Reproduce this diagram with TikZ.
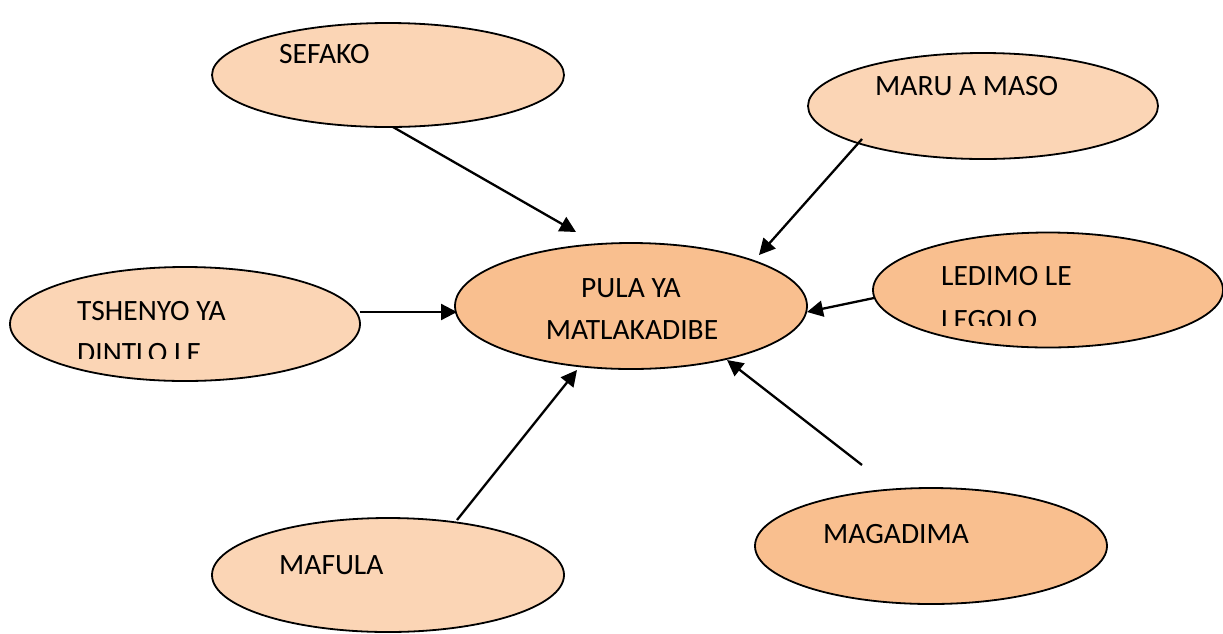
\documentclass[tikz,border=0pt]{standalone}
\usepackage{fontspec}
\setmainfont{Carlito}
\usetikzlibrary{shapes.geometric,arrows.meta}
\definecolor{lightpeach}{HTML}{FBD5B5}
\definecolor{darkpeach}{HTML}{F9BF8F}
\begin{document}
\begin{tikzpicture}[x=1pt,y=-1pt,
  bubble/.style={ellipse,draw=black,line width=1.8pt,inner sep=0pt},
  lbl/.style={anchor=base west,inner sep=0pt,font=\fontsize{29.5}{41}\selectfont},
  arr/.style={line width=2.3pt,-{Triangle[length=16pt,width=16pt]}}]
\useasboundingbox (0,0) rectangle (1223,633);
% ellipses
\node[bubble,fill=lightpeach,minimum width=352pt,minimum height=104pt] (sefako) at (388,75) {};
\node[bubble,fill=lightpeach,minimum width=350pt,minimum height=106pt] (maru) at (983,106) {};
\node[bubble,fill=lightpeach,minimum width=350pt,minimum height=114pt] (tshenyo) at (185,324) {};
\node[bubble,fill=darkpeach,minimum width=352pt,minimum height=126pt] (pula) at (631,306) {};
\node[bubble,fill=darkpeach,minimum width=350pt,minimum height=115pt] (ledimo) at (1048,290) {};
\node[bubble,fill=lightpeach,minimum width=352pt,minimum height=114pt] (mafula) at (388,575) {};
\node[bubble,fill=darkpeach,minimum width=352pt,minimum height=116pt] (magadima) at (931,546) {};
% texts
\node[lbl] (tsefako) at (279,63) {SEFAKO};
\node[lbl] (tmaru) at (875,95) {MARU A MASO};
\node[lbl] (ttsh1) at (77,320) {TSHENYO YA};
\begin{scope}
  \clip (60,325) rectangle (300,358);
  \node[lbl] (ttsh2) at (77,362) {DINTLO LE};
\end{scope}
\node[lbl,anchor=base] (tpula1) at (631,297) {PULA YA};
\node[lbl,anchor=base] (tpula2) at (632,339) {MATLAKADIBE};
\node[lbl] (tled1) at (941,285) {LEDIMO LE};
\begin{scope}
  \clip (930,290) rectangle (1150,325);
  \node[lbl] (tled2) at (941,329) {LEGOLO};
\end{scope}
\node[lbl] (tmafula) at (279,574) {MAFULA};
\node[lbl] (tmagadima) at (823,543) {MAGADIMA};
% connector ends
\coordinate (s1) at (393,127);
\coordinate (e1) at (576,232);
\coordinate (s2) at (862,139);
\coordinate (e2) at (759,255);
\coordinate (s3) at (360,312);
\coordinate (e3) at (457,312);
\coordinate (s4) at (874,298);
\coordinate (e4) at (807,312);
\coordinate (s5) at (457,520);
\coordinate (e5) at (577,370);
\coordinate (s6) at (862,465);
\coordinate (e6) at (727,360);
\draw[arr] (s1) -- (e1);
\draw[arr] (s2) -- (e2);
\draw[arr] (s3) -- (e3);
\draw[arr] (s4) -- (e4);
\draw[arr] (s5) -- (e5);
\draw[arr] (s6) -- (e6);
\end{tikzpicture}
\end{document}
